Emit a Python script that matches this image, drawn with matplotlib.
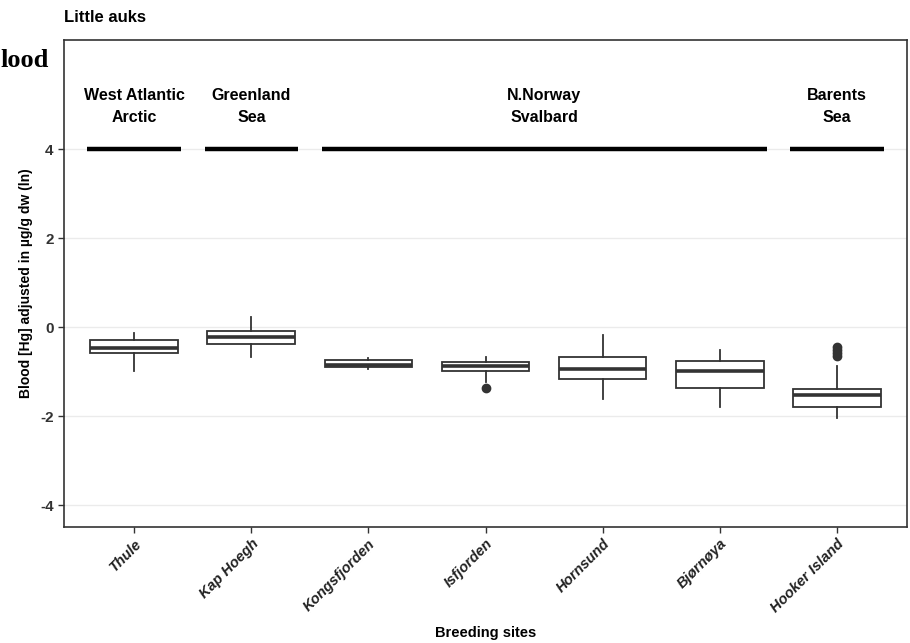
import matplotlib
matplotlib.use("Agg")
import matplotlib.pyplot as plt

plt.rcParams['font.family'] = ['Liberation Sans', 'DejaVu Sans']

sites = ["Thule", "Kap Hoegh", "Kongsfjorden", "Isfjorden", "Hornsund", "Bjørnøya", "Hooker Island"]
whislo = [-0.99, -0.68, -0.94, -1.23, -1.62, -1.80, -2.05]
q1 = [-0.58, -0.37, -0.89, -0.98, -1.16, -1.36, -1.79]
med = [-0.47, -0.23, -0.86, -0.88, -0.93, -0.98, -1.53]
q3 = [-0.29, -0.09, -0.74, -0.79, -0.68, -0.76, -1.40]
whishi = [-0.13, 0.22, -0.70, -0.67, -0.18, -0.52, -0.88]
fliers = [[], [], [], [-1.36], [], [], [-0.45, -0.52, -0.58, -0.65]]

groups = ["West Atlantic\nArctic", "Greenland\nSea", "N.Norway\nSvalbard", "Barents\nSea"]
group_first = [1, 2, 3, 7]
group_last = [1, 2, 6, 7]
group_line_y = 4
group_text_y = 4.95

fig = plt.figure(figsize=(9.1, 6.43), dpi=100)
ax = fig.add_axes([64/910, 1-527/643, (907-64)/910, (527-40)/643])

stats = []
for i in range(len(sites)):
    stats.append(dict(whislo=whislo[i], q1=q1[i], med=med[i], q3=q3[i],
                      whishi=whishi[i], fliers=fliers[i]))
pos = list(range(1, len(sites)+1))
ax.bxp(stats, positions=pos, widths=0.75, patch_artist=True, showcaps=False,
       boxprops=dict(facecolor='white', edgecolor='#333333', linewidth=1.3),
       medianprops=dict(color='#333333', linewidth=2.6),
       whiskerprops=dict(color='#333333', linewidth=1.3),
       flierprops=dict(marker='o', markerfacecolor='#333333', markeredgecolor='#333333', markersize=6))

for g, a, b in zip(groups, group_first, group_last):
    ax.plot([a-0.4, b+0.4], [group_line_y, group_line_y], color='black', lw=3.2, solid_capstyle='butt')
    ax.text((a+b)/2, group_text_y, g, ha='center', va='center', fontsize=11.5,
            fontweight='bold', color='black', linespacing=1.55)

ax.set_xlim(0.4, 7.6)
ax.set_ylim(-4.49, 6.45)
ax.set_yticks([-4, -2, 0, 2, 4])
ax.set_yticklabels(['-4', '-2', '0', '2', '4'], fontweight='bold', fontsize=11, color='#333333')
ax.set_xticks(pos)
ax.set_xticklabels(sites, rotation=45, ha='right', rotation_mode='anchor',
                   fontweight='bold', fontstyle='italic', fontsize=10.5, color='#222222')
ax.yaxis.grid(True, color='#ebebeb', lw=1.0)
ax.set_axisbelow(True)
for s in ax.spines.values():
    s.set_color('#333333')
    s.set_linewidth(1.2)
ax.tick_params(axis='both', length=4, width=1.0, color='#333333')
ax.tick_params(axis='x', pad=3)
ax.set_ylabel('Blood [Hg] adjusted in µg/g dw (ln)', fontsize=10, fontweight='bold', labelpad=5)
ax.set_xlabel('Breeding sites', fontsize=10.5, fontweight='bold', labelpad=8)

fig.text(64/910, 1-18/643, 'Little auks', fontsize=12, fontweight='bold', ha='left', va='center')
fig.text(0, 1-67/643, 'lood', family='Liberation Serif', fontsize=19, fontweight='bold',
         ha='left', va='baseline')

fig.savefig('out.png', dpi=100)
